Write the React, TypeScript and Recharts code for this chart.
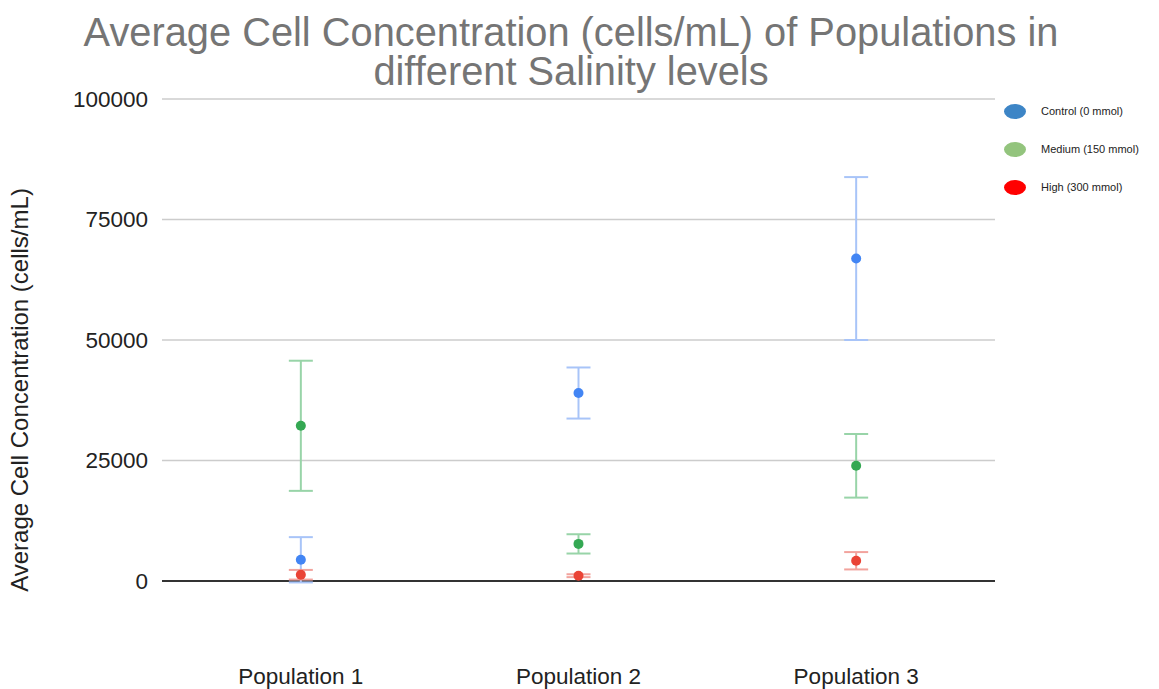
import React from "react";
import {
  ComposedChart,
  Line,
  ErrorBar,
  XAxis,
  YAxis,
  CartesianGrid,
  ReferenceLine,
} from "recharts";

const categories = ["Population 1", "Population 2", "Population 3"];
const control = [4400, 39000, 66900];
const controlErr = [4700, 5300, 16900];
const medium = [32200, 7700, 23900];
const mediumErr = [13500, 2000, 6600];
const high = [1300, 1100, 4200];
const highErr = [1000, 300, 1800];
const yTicks = [0, 25000, 50000, 75000, 100000];

const titleLines = [
  "Average Cell Concentration (cells/mL) of Populations in",
  "different Salinity levels",
];

const legendItems = [
  { label: "Control (0 mmol)", color: "#3d85c6" },
  { label: "Medium (150 mmol)", color: "#93c47d" },
  { label: "High (300 mmol)", color: "#ff0000" },
];

const data = categories.map((name, i) => ({
  name,
  control: control[i],
  controlErr: controlErr[i],
  medium: medium[i],
  mediumErr: mediumErr[i],
  high: high[i],
  highErr: highErr[i],
}));

const font = "Arial, 'Liberation Sans', sans-serif";

function LegendBox() {
  return (
    <div
      style={{
        position: "absolute",
        left: 1004,
        top: 92,
        fontFamily: font,
        fontSize: 11,
        color: "#222",
      }}
    >
      {legendItems.map((it) => (
        <div
          key={it.label}
          style={{ display: "flex", alignItems: "center", height: 38 }}
        >
          <span
            style={{
              display: "inline-block",
              width: 22,
              height: 15,
              borderRadius: "50%",
              background: it.color,
              marginRight: 15,
            }}
          />
          <span>{it.label}</span>
        </div>
      ))}
    </div>
  );
}

export default function App() {
  return (
    <div
      style={{
        position: "absolute",
        left: 0,
        top: 0,
        width: 1159,
        height: 689,
        background: "#fff",
        fontFamily: font,
      }}
    >
      <ComposedChart
        width={1159}
        height={689}
        data={data}
        margin={{ top: 99, right: 164, bottom: 0, left: 0 }}
      >
        <CartesianGrid vertical={false} stroke="#cccccc" strokeWidth={1.5} />
        <XAxis
          dataKey="name"
          scale="band"
          height={108}
          axisLine={false}
          tickLine={false}
          tickMargin={81}
          tick={{ fill: "#222", fontSize: 22.5, fontFamily: font }}
        />
        <YAxis
          width={162}
          domain={[0, 100000]}
          ticks={yTicks}
          allowDataOverflow
          axisLine={false}
          tickLine={false}
          tickSize={6}
          tickMargin={8}
          tick={{ fill: "#222", fontSize: 22.5, fontFamily: font }}
          label={{
            content: () => (
              <text
                x={22}
                y={390}
                transform="rotate(-90, 22, 390)"
                textAnchor="middle"
                dominantBaseline="middle"
                fill="#222"
                fontSize={24}
                fontFamily={font}
              >
                Average Cell Concentration (cells/mL)
              </text>
            ),
          }}
        />
        <ReferenceLine y={0} stroke="#333" strokeWidth={2} />
        <Line
          dataKey="control"
          stroke="none"
          isAnimationActive={false}
          dot={{ r: 5, fill: "#4285f4", stroke: "none" }}
          activeDot={false}
        >
          <ErrorBar
            dataKey="controlErr"
            direction="y"
            width={12}
            stroke="#a8c4f8"
            strokeWidth={2}
          />
        </Line>
        <Line
          dataKey="medium"
          stroke="none"
          isAnimationActive={false}
          dot={{ r: 5, fill: "#34a853", stroke: "none" }}
          activeDot={false}
        >
          <ErrorBar
            dataKey="mediumErr"
            direction="y"
            width={12}
            stroke="#98d4a8"
            strokeWidth={2}
          />
        </Line>
        <Line
          dataKey="high"
          stroke="none"
          isAnimationActive={false}
          dot={{ r: 5, fill: "#ea4335", stroke: "none" }}
          activeDot={false}
        >
          <ErrorBar
            dataKey="highErr"
            direction="y"
            width={12}
            stroke="#f2a39d"
            strokeWidth={2}
          />
        </Line>
      </ComposedChart>
      {titleLines.map((line, i) => (
        <div
          key={line}
          style={{
            position: "absolute",
            left: 0,
            width: 1142,
            top: 13 + i * 39,
            textAlign: "center",
            fontSize: 39.8,
            lineHeight: "38px",
            color: "#757575",
            whiteSpace: "nowrap",
          }}
        >
          {line}
        </div>
      ))}
      <LegendBox />
    </div>
  );
}
